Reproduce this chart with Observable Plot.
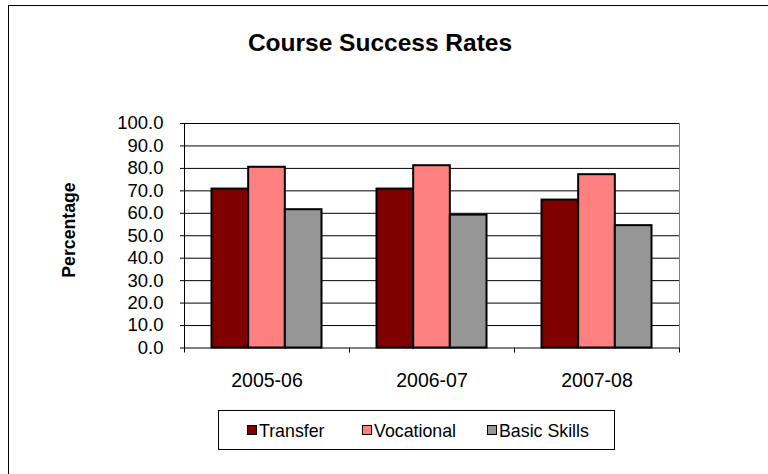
<!DOCTYPE html>
<html>
<head>
<meta charset="utf-8">
<script src="https://cdn.jsdelivr.net/npm/d3@7"></script>
<script src="https://cdn.jsdelivr.net/npm/@observablehq/plot@0.6"></script>
<style>
  body { margin: 0; background: #fff; font-family: Arial, "Liberation Sans", sans-serif; color: #000; }
  #wrap { position: relative; width: 768px; height: 474px; overflow: hidden; background: #fff; }
  #wrap svg { position: absolute; left: 0; top: 0; background: transparent; }
  #frame { position: absolute; left: 8px; top: 5px; width: 900px; height: 600px; border-left: 1px solid #000; border-top: 1px solid #000; }
  #title { position: absolute; left: 180px; width: 400px; top: 30.5px; text-align: center; font-weight: bold; font-size: 24.5px; line-height: 24.5px; white-space: nowrap; }
  #ylabel { position: absolute; left: -31px; top: 220px; width: 200px; height: 20px; line-height: 20px; text-align: center; font-weight: bold; font-size: 17.7px; transform: rotate(-90deg); white-space: nowrap; }
  #legend { position: absolute; left: 218px; top: 410px; width: 397px; height: 40px; border: 1px solid #000; box-sizing: border-box; }
  .sw { position: absolute; top: 14px; width: 10px; height: 10px; border: 1.5px solid #000; box-sizing: border-box; }
  .lt { position: absolute; top: 11.8px; font-size: 17.8px; line-height: 17.8px; white-space: nowrap; }
</style>
</head>
<body>
<div id="wrap"></div>
<script>
// ---- data ----
const years = ["2005-06", "2006-07", "2007-08"];
const series = ["Transfer", "Vocational", "Basic Skills"];
const transfer = [70.8, 70.8, 65.9];
const vocational = [80.5, 81.2, 77.2];
const basicSkills = [61.6, 59.2, 54.5];
const colors = ["#800000", "#FF8080", "#969696"];
const yTicks = [0, 10, 20, 30, 40, 50, 60, 70, 80, 90, 100];

// ---- build table ----
const values = [transfer, vocational, basicSkills];
const rows = [];
years.forEach((yr, g) => series.forEach((s, i) => rows.push({year: yr, g, series: s, i, value: values[i][g]})));
const bw = 1 / 4.5; // bar width in group units (150% gap)

const wrap = document.getElementById("wrap");

const plot = Plot.plot({
  width: 768,
  height: 474,
  marginLeft: 184,
  marginRight: 89,
  marginTop: 123,
  marginBottom: 126.5,
  x: {domain: [0, years.length], axis: null},
  y: {domain: [0, 100], axis: null},
  color: {domain: series, range: colors},
  style: {fontFamily: "Arial, 'Liberation Sans', sans-serif", background: "transparent", color: "#000", overflow: "visible"},
  marks: [
    Plot.ruleY(yTicks.slice(1), {x1: 0, x2: years.length, stroke: "#000", strokeWidth: 1}),
    Plot.rect(rows, {
      x1: d => d.g + 0.5 + (d.i - 1.5) * bw,
      x2: d => d.g + 0.5 + (d.i - 0.5) * bw,
      y1: 0,
      y2: "value",
      fill: "series",
      stroke: "#000",
      strokeWidth: 2
    }),
    Plot.ruleX([years.length], {y1: 0, y2: 100, stroke: "#808080"}),
    Plot.ruleX([0], {y1: 0, y2: 100, stroke: "#000"}),
    Plot.ruleY([0], {x1: 0, x2: years.length, stroke: "#000"}),
    Plot.axisY({ticks: yTicks, tickFormat: d3.format(".1f"), tickSize: 4, tickPadding: 17, fontSize: 18.5, label: null}),
    Plot.axisX({ticks: d3.range(years.length + 1), tickSize: 5, tickFormat: () => "", label: null}),
    Plot.axisX({ticks: years.map((_, g) => g + 0.5), tickSize: 0, tickPadding: 25, tickFormat: d => years[Math.floor(d)], fontSize: 19.5, label: null})
  ]
});
wrap.appendChild(plot);

const frame = document.createElement("div");
frame.id = "frame";
wrap.appendChild(frame);

const title = document.createElement("div");
title.id = "title";
title.textContent = "Course Success Rates";
wrap.appendChild(title);

const ylabel = document.createElement("div");
ylabel.id = "ylabel";
ylabel.textContent = "Percentage";
wrap.appendChild(ylabel);

const legend = document.createElement("div");
legend.id = "legend";
const swLeft = [28, 143, 268];
series.forEach((s, i) => {
  const sw = document.createElement("div");
  sw.className = "sw";
  sw.style.left = swLeft[i] + "px";
  sw.style.background = colors[i];
  legend.appendChild(sw);
  const t = document.createElement("div");
  t.className = "lt";
  t.style.left = (swLeft[i] + 12) + "px";
  t.textContent = s;
  legend.appendChild(t);
});
wrap.appendChild(legend);
</script>
</body>
</html>
